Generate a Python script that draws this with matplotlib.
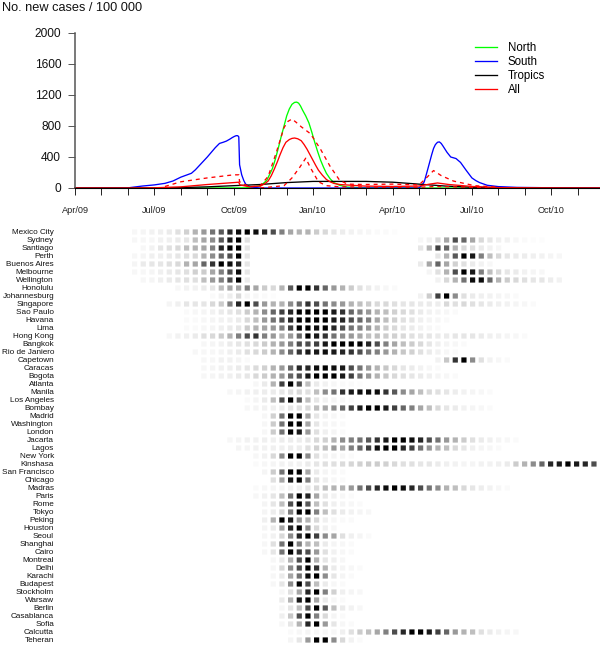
import matplotlib
matplotlib.use("Agg")
import matplotlib.pyplot as plt
import numpy as np

plt.rcParams['font.family'] = ['Liberation Sans', 'DejaVu Sans']

# top panel, months since Apr/09
month_ticks = list(range(0, 20))
month_label_pos = [0, 3, 6, 9, 12, 15, 18]
month_labels = ['Apr/09', 'Jul/09', 'Oct/09', 'Jan/10', 'Apr/10', 'Jul/10', 'Oct/10']
y_ticks = [0, 400, 800, 1200, 1600, 2000]

north_x = [0, 4.6, 6.45, 7.03, 7.25, 7.46, 7.57, 7.68, 7.79, 7.9, 8.0, 8.1, 8.2, 8.3, 8.38, 8.45, 8.52, 8.6, 8.72, 8.84, 8.95, 9.06, 9.17, 9.28, 9.39, 9.5, 9.64, 9.78, 10, 10.3, 10.9, 12, 15.5]
north_y = [0, 0, 2, 30, 100, 250, 370, 510, 660, 800, 930, 1020, 1080, 1105, 1108, 1095, 1060, 1005, 930, 840, 720, 590, 470, 360, 270, 190, 120, 70, 35, 12, 2, 0, 0]

south_x = [0, 2, 2.54, 3, 3.4, 3.7, 4, 4.2, 4.4, 4.55, 4.7, 5, 5.15, 5.3, 5.46, 5.6, 5.72, 5.85, 5.94, 6.02, 6.09, 6.15, 6.19, 6.22, 6.3, 6.38, 6.45, 6.55, 6.67, 7, 13, 13.1, 13.2, 13.33, 13.48, 13.55, 13.62, 13.7, 13.77, 13.84, 13.91, 14.06, 14.2, 14.3, 14.4, 14.57, 14.78, 15, 15.15, 15.29, 15.58, 16, 16.7, 18, 19.86]
south_y = [0, 2, 25, 40, 60, 90, 140, 165, 190, 235, 290, 400, 460, 520, 575, 590, 605, 630, 650, 665, 675, 675, 660, 300, 170, 95, 50, 25, 12, 0, 0, 30, 80, 240, 430, 510, 560, 590, 595, 575, 540, 460, 400, 390, 380, 330, 230, 130, 95, 70, 35, 18, 8, 3, 0]

tropics_x = [0, 3, 4, 5, 6, 7, 8, 9, 10, 11, 12, 13, 14, 15, 16, 17.5, 19.86]
tropics_y = [0, 0, 5, 15, 30, 45, 70, 85, 85, 85, 75, 50, 25, 10, 5, 2, 0]

all_x = [0, 2.25, 3, 4, 5, 6, 6.19, 6.23, 6.6, 7, 7.15, 7.3, 7.42, 7.54, 7.65, 7.75, 7.86, 7.97, 8.1, 8.2, 8.3, 8.42, 8.55, 8.66, 8.77, 8.88, 8.99, 9.1, 9.2, 9.35, 9.5, 9.64, 9.78, 10, 10.94, 12, 13, 13.4, 13.7, 14.13, 15, 16, 17.5, 19.86]
all_y = [0, 0, 3, 15, 45, 70, 75, 40, 15, 25, 50, 90, 160, 250, 340, 430, 520, 590, 625, 640, 645, 635, 610, 560, 500, 430, 360, 290, 230, 165, 110, 80, 60, 45, 25, 20, 25, 50, 65, 45, 20, 5, 1, 0]

upper_x = [3.4, 4, 5, 6, 6.19, 6.22, 6.6, 7, 7.3, 7.6, 7.9, 8.05, 8.2, 8.35, 8.55, 8.9, 9.28, 9.64, 10, 10.3, 10.9, 12, 13, 13.25, 13.55, 13.84, 14.3, 14.7, 15.1, 16]
upper_y = [20, 80, 130, 170, 170, 80, 15, 30, 150, 450, 780, 860, 890, 850, 790, 700, 500, 280, 100, 50, 45, 50, 40, 120, 225, 160, 90, 60, 30, 10]

lower_x = [7, 7.9, 8.2, 8.5, 8.72, 8.9, 9.2, 9.5, 10, 12, 13, 13.7, 15, 16]
lower_y = [0, 30, 130, 270, 385, 260, 80, 30, 15, 10, 10, 20, 10, 0]

# bottom panel, darkness in percent per ten day column
cities = ['Mexico City', 'Sydney', 'Santiago', 'Perth', 'Buenos Aires', 'Melbourne', 'Wellington',
          'Honolulu', 'Johannesburg', 'Singapore', 'Sao Paulo', 'Havana', 'Lima', 'Hong Kong',
          'Bangkok', 'Rio de Janiero', 'Capetown', 'Caracas', 'Bogota', 'Atlanta', 'Manila',
          'Los Angeles', 'Bombay', 'Madrid', 'Washington', 'London', 'Jacarta', 'Lagos', 'New York',
          'Kinshasa', 'San Francisco', 'Chicago', 'Madras', 'Paris', 'Rome', 'Tokyo', 'Peking',
          'Houston', 'Seoul', 'Shanghai', 'Cairo', 'Montreal', 'Delhi', 'Karachi', 'Budapest',
          'Stockholm', 'Warsaw', 'Berlin', 'Casablanca', 'Sofia', 'Calcutta', 'Teheran']

mexico_city = [3,4,5,6,8,12,18,30,40,55,65,85,95,100,95,85,70,50,35,30,30,20,15,10,7,5,4,3,2,2,1]
sydney = [3,3,3,5,6,8,10,25,35,45,65,90,100,12,0,0,0,0,0,0,0,0,0,0,0,0,0,0,0,0,0,0,0,3,5,15,35,70,60,35,15,10,6,5,3,2,1,1]
santiago = [0,3,5,10,12,15,25,30,35,50,85,100,100,10,0,0,0,0,0,0,0,0,0,0,0,0,0,0,0,0,0,0,0,10,30,75,60,30,15,12,8,5,3]
perth = [3,4,6,6,8,10,12,15,30,45,60,70,100,10,0,0,0,0,0,0,0,0,0,0,0,0,0,0,0,0,0,0,0,0,0,10,30,65,100,90,50,25,15,10,8,7,6,5,4,3]
buenos_aires = [4,8,10,10,12,15,30,35,60,80,100,95,85,10,0,0,0,0,0,0,0,0,0,0,0,0,0,0,0,0,0,0,0,8,35,60,35,18,12,8,5,3]
melbourne = [3,3,4,6,8,10,12,18,20,35,50,70,95,10,0,0,0,0,0,0,0,0,0,0,0,0,0,0,0,0,0,0,0,0,4,12,30,70,100,90,50,25,15,10,8,5,4,3]
wellington = [0,3,4,6,8,10,12,12,25,40,50,70,100,8,0,0,0,0,0,0,0,0,0,0,0,0,0,0,0,0,0,0,0,0,0,5,15,30,55,95,95,60,30,20,15,12,10,10,7,5]
honolulu = [0,0,0,0,0,3,5,5,8,10,25,35,35,50,35,20,15,30,65,100,100,80,60,40,30,20,12,8,5,3,2]
johannesburg = [0,0,0,0,0,0,0,0,0,2,5,7,15,4,3,2,1,0,0,0,0,0,0,0,0,0,0,0,0,0,0,0,0,5,20,75,100,45,12,8,6,5,4,3,2]
singapore = [0,0,0,0,4,6,10,10,10,15,20,50,85,100,70,40,30,30,45,60,80,70,55,45,40,30,25,20,15,15,12,10,10,8,8,7,15,12,15,12,10,8,6,5,4,3,2]
sao_paulo = [0,0,0,0,0,0,2,3,4,5,8,10,12,20,30,45,60,75,85,100,100,100,100,90,80,60,50,40,30,25,18,15,12,8,5,4,3,2]
havana = [0,0,0,0,0,0,2,2,3,4,5,6,8,15,25,40,55,70,85,100,100,100,100,90,85,70,60,50,35,25,18,12,10,6,4,3,2]
lima = [0,0,0,0,0,0,2,2,3,4,6,8,10,20,30,35,40,50,75,100,100,95,100,85,70,55,50,40,30,20,15,10,8,5,3,2]
hong_kong = [0,0,0,0,3,5,6,8,12,15,20,30,50,70,80,50,40,30,40,60,100,90,80,55,45,40,35,25,25,20,18,15,12,10,10,8,8,10,10,10,8,6,5,4,3,2]
bangkok = [0,0,0,0,0,0,0,0,3,4,5,8,10,12,15,20,30,40,50,70,70,75,90,100,100,100,100,85,70,50,35,25,20,15,10,6,4,3,2]
rio_de_janiero = [0,0,0,0,0,0,0,3,3,3,4,6,8,12,15,20,30,45,60,80,90,90,95,90,85,80,70,55,50,40,30,22,18,12,8,5,3,2]
capetown = [0,0,0,0,0,0,0,0,3,3,5,5,4,2,0,0,0,0,0,0,0,0,0,0,0,0,0,0,0,0,0,0,0,0,0,5,22,80,100,45,12,5,3,2]
caracas = [0,0,0,0,0,0,0,0,3,4,5,6,8,10,14,18,30,40,60,85,85,95,100,95,90,70,55,40,30,22,15,10,8,5,3,2]
bogota = [0,0,0,0,0,0,0,0,3,4,5,6,8,10,15,20,30,40,60,70,90,100,100,100,90,75,55,40,30,22,15,12,10,8,6,4,3,2]
atlanta = [0,0,0,0,0,0,0,0,0,0,0,0,0,0,3,8,30,75,100,70,25,8,5,3,2,2,1]
manila = [0,0,0,0,0,0,0,0,0,0,0,3,4,5,6,7,8,10,12,15,12,25,45,55,80,90,95,95,95,80,65,45,35,25,15,12,10,7,5,4,3,2]
los_angeles = [0,0,0,0,0,0,0,0,0,0,0,0,0,2,4,8,25,70,100,65,25,10,5,4,3,2]
bombay = [0,0,0,0,0,0,0,0,0,0,0,0,0,3,4,5,6,7,10,12,15,25,35,45,60,75,90,100,100,90,75,60,50,35,25,15,10,8,5,4,3,2]
madrid = [0,0,0,0,0,0,0,0,0,0,0,0,0,0,0,3,18,55,100,100,35,10,5,3,2]
washington = [0,0,0,0,0,0,0,0,0,0,0,0,0,0,0,3,20,55,100,100,35,10,4,3,2]
london = [0,0,0,0,0,0,0,0,0,0,0,0,0,0,0,3,20,55,100,90,40,12,6,4,2]
jacarta = [0,0,0,0,0,0,0,0,0,0,0,3,4,5,5,6,6,7,7,7,10,15,18,30,45,50,55,65,80,90,100,100,95,85,70,55,40,30,20,12,8,6,4,3,2]
lagos = [0,0,0,0,0,0,0,0,0,0,0,0,4,4,5,5,6,6,7,7,12,18,25,40,35,50,60,75,95,100,100,85,75,55,40,30,25,15,10,6,4,3,2]
new_york = [0,0,0,0,0,0,0,0,0,0,0,0,0,0,3,5,15,45,100,100,45,12,6,4,3,2]
kinshasa = [0,0,0,0,0,0,0,0,0,0,0,0,0,0,2,3,4,5,5,5,8,10,12,12,14,16,18,20,20,18,15,12,12,10,10,8,6,5,4,4,5,5,6,8,20,30,45,60,85,90,100,90,85,70]
san_francisco = [0,0,0,0,0,0,0,0,0,0,0,0,0,0,0,4,20,55,100,100,35,8,4,3,2]
chicago = [0,0,0,0,0,0,0,0,0,0,0,0,0,0,0,0,12,35,90,100,50,12,6,3,2]
madras = [0,0,0,0,0,0,0,0,0,0,0,0,0,0,2,3,4,4,5,6,10,15,25,30,30,40,55,70,85,95,100,95,85,70,55,45,30,25,15,10,7,5,3,2]
paris = [0,0,0,0,0,0,0,0,0,0,0,0,0,0,3,5,10,25,55,100,85,35,10,5,3,2]
rome = [0,0,0,0,0,0,0,0,0,0,0,0,0,0,0,4,10,25,70,100,65,25,12,6,4,3,2]
tokyo = [0,0,0,0,0,0,0,0,0,0,0,0,0,0,0,4,7,15,50,100,100,50,25,12,8,5,4,3]
peking = [0,0,0,0,0,0,0,0,0,0,0,0,0,0,0,6,30,100,90,40,30,15,6,3,2,2]
houston = [0,0,0,0,0,0,0,0,0,0,0,0,0,0,0,4,8,35,85,100,45,15,6,3]
seoul = [0,0,0,0,0,0,0,0,0,0,0,0,0,0,0,3,5,15,45,85,100,75,45,35,12,6,4,2]
shanghai = [0,0,0,0,0,0,0,0,0,0,0,0,0,0,0,3,12,55,100,50,30,25,8,4,3,2]
cairo = [0,0,0,0,0,0,0,0,0,0,0,0,0,0,0,3,10,55,100,80,70,40,12,5,3,2]
montreal = [0,0,0,0,0,0,0,0,0,0,0,0,0,0,0,0,3,8,30,70,100,30,10,6,3]
delhi = [0,0,0,0,0,0,0,0,0,0,0,0,0,0,0,0,3,15,45,70,100,80,30,8,4,3,2]
karachi = [0,0,0,0,0,0,0,0,0,0,0,0,0,0,0,0,3,8,35,55,95,100,45,10,4,2]
budapest = [0,0,0,0,0,0,0,0,0,0,0,0,0,0,0,0,3,10,45,100,70,25,8,3,2]
stockholm = [0,0,0,0,0,0,0,0,0,0,0,0,0,0,0,0,0,3,12,35,85,100,50,18,6,4,3]
warsaw = [0,0,0,0,0,0,0,0,0,0,0,0,0,0,0,0,0,8,30,90,100,35,8,3,2]
berlin = [0,0,0,0,0,0,0,0,0,0,0,0,0,0,0,0,0,3,10,25,70,100,65,25,8,5,3]
casablanca = [0,0,0,0,0,0,0,0,0,0,0,0,0,0,0,0,0,6,22,70,100,50,15,4,2]
sofia = [0,0,0,0,0,0,0,0,0,0,0,0,0,0,0,0,0,3,10,30,85,100,40,10,3,2]
calcutta = [0,0,0,0,0,0,0,0,0,0,0,0,0,0,0,0,0,0,2,3,4,3,3,3,6,12,20,25,35,50,70,85,100,100,90,75,60,40,30,25,12,8,5,4,3]
teheran = [0,0,0,0,0,0,0,0,0,0,0,0,0,0,0,0,0,0,4,10,40,100,100,45,15,5,2]

rows = [mexico_city, sydney, santiago, perth, buenos_aires, melbourne, wellington, honolulu,
        johannesburg, singapore, sao_paulo, havana, lima, hong_kong, bangkok, rio_de_janiero,
        capetown, caracas, bogota, atlanta, manila, los_angeles, bombay, madrid, washington,
        london, jacarta, lagos, new_york, kinshasa, san_francisco, chicago, madras, paris, rome,
        tokyo, peking, houston, seoul, shanghai, cairo, montreal, delhi, karachi, budapest,
        stockholm, warsaw, berlin, casablanca, sofia, calcutta, teheran]

W, H = 600, 650
fig = plt.figure(figsize=(W / 100, H / 100), dpi=100)

def px_axes(x0, x1, y_top, y_bottom):
    return fig.add_axes([x0 / W, 1 - y_bottom / H, (x1 - x0) / W, (y_bottom - y_top) / H])

# lines
ax = px_axes(75, 600, 33, 188)
ax.plot(north_x, north_y, color='#00ff00', lw=0.95, label='North', clip_on=False)
ax.plot(south_x, south_y, color='#0000ff', lw=0.95, label='South', clip_on=False)
ax.plot(tropics_x, tropics_y, color='black', lw=0.95, label='Tropics', clip_on=False)
ax.plot(all_x, all_y, color='#ff0000', lw=0.95, label='All', clip_on=False)
ax.plot(upper_x, upper_y, color='#ff0000', lw=0.95, dashes=(3, 3), clip_on=False)
ax.plot(lower_x, lower_y, color='#ff0000', lw=0.95, dashes=(3, 3), clip_on=False)
ax.set_xlim(0, 525 / 26.46)
ax.set_ylim(0, 2000)
for s in ['top', 'right']:
    ax.spines[s].set_visible(False)
ax.spines['left'].set_color('#555555')
ax.spines['left'].set_linewidth(1.1)
ax.spines['bottom'].set_linewidth(0.8)
ax.set_yticks(y_ticks)
ax.set_yticklabels([str(v) for v in y_ticks], fontsize=8.6, color='#111111')
ax.set_xticks(month_ticks)
ax.set_xticklabels([])
ax.tick_params(axis='x', length=4.8, width=0.7, color='#222222')
ax.tick_params(axis='y', length=4.8, width=0.7, color='#555555', pad=5.2)
for p, l in zip(month_label_pos, month_labels):
    ax.annotate(l, (p, 0), xytext=(0, -23), textcoords='offset pixels', fontsize=6.6,
                ha='center', va='center', annotation_clip=False, color='#222222')
ax.legend(loc='upper left', bbox_to_anchor=(400 / 525, 0.94), frameon=False, fontsize=8.3,
          handlelength=1.87, handletextpad=0.95, labelspacing=0.17, borderpad=0, borderaxespad=0)
fig.text(2 / W, 1 - 8 / H, 'No. new cases / 100 000', fontsize=9.2, ha='left', va='center', color='#111111')

# grey squares
ax2 = px_axes(60, 600, 225, 645)
for i, row in enumerate(rows):
    cols = np.arange(len(row))
    vals = np.array(row, dtype=float)
    keep = vals > 0
    greys = [str(1 - v / 100) for v in vals[keep]]
    pts = ax2.scatter(cols[keep], np.full(keep.sum(), i), marker='s', s=14, c=greys, linewidths=0)
    pts.set_snap(False)
ax2.set_xlim((60 - 134.6) / 8.667, (600 - 134.6) / 8.667)
ax2.set_ylim((645 - 232) / 8, (225 - 232) / 8)
for s in ax2.spines.values():
    s.set_visible(False)
ax2.set_xticks([])
ax2.set_yticks(range(len(cities)))
ax2.set_yticklabels(cities, fontsize=5.85, color='#111111')
ax2.tick_params(axis='y', length=0, pad=4.3)

fig.savefig('out.png', dpi=100)
